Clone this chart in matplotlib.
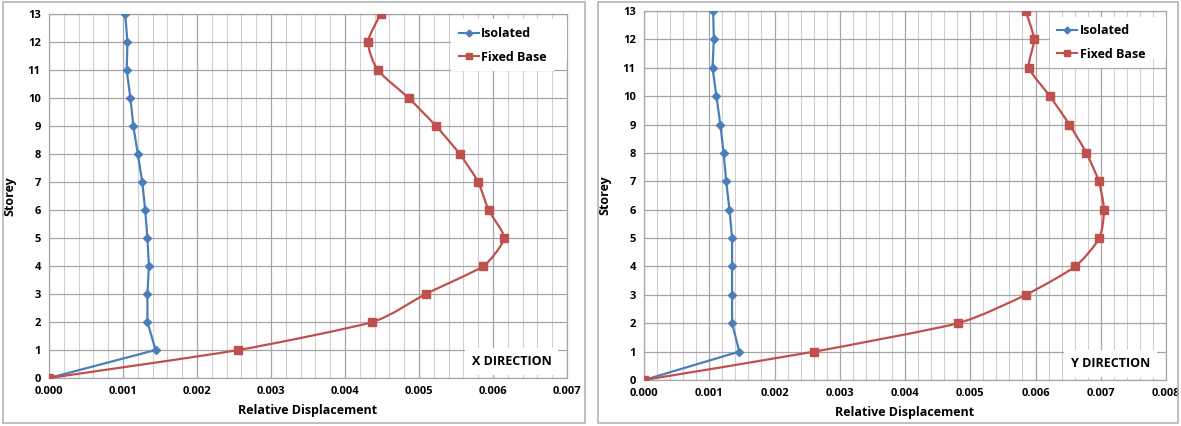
import matplotlib
matplotlib.use('Agg')
import matplotlib.pyplot as plt
from matplotlib.path import Path
from matplotlib.patches import PathPatch, Rectangle
from matplotlib.ticker import MultipleLocator, FormatStrFormatter
from matplotlib.lines import Line2D

storeys = list(range(14))
x_isolated = [0, 0.00144, 0.00133, 0.00133, 0.00135, 0.00133, 0.00130, 0.00126,
              0.00120, 0.00114, 0.00110, 0.00105, 0.00106, 0.00103]
x_fixed = [0, 0.00256, 0.00437, 0.00509, 0.00587, 0.00615, 0.00594, 0.00580,
           0.00555, 0.00523, 0.00486, 0.00444, 0.00431, 0.00448]
y_isolated = [0, 0.00146, 0.00135, 0.00135, 0.00135, 0.00135, 0.00131, 0.00126,
              0.00122, 0.00117, 0.00111, 0.00105, 0.00107, 0.00106]
y_fixed = [0, 0.00261, 0.00481, 0.00585, 0.00661, 0.00698, 0.00705, 0.00697,
           0.00678, 0.00652, 0.00622, 0.00590, 0.00598, 0.00585]
panel_titles = ["X DIRECTION", "Y DIRECTION"]
x_max = [0.007, 0.008]

BLUE = '#4A7EBB'
RED = '#C0504D'
FONT = 'Open Sans'
plt.rcParams['font.family'] = [FONT, 'DejaVu Sans']
plt.rcParams['font.weight'] = 'bold'
plt.rcParams['axes.labelweight'] = 'bold'


def smooth_path(xs, ys, f=10.0):
    pts = list(zip(xs, ys))
    n = len(pts)
    verts = [pts[0]]
    codes = [Path.MOVETO]
    for i in range(n - 1):
        p0 = pts[i - 1] if i > 0 else pts[i]
        p1 = pts[i]
        p2 = pts[i + 1]
        p3 = pts[i + 2] if i + 2 < n else pts[i + 1]
        c1 = (p1[0] + (p2[0] - p0[0]) / f, p1[1] + (p2[1] - p0[1]) / f)
        c2 = (p2[0] - (p3[0] - p1[0]) / f, p2[1] - (p3[1] - p1[1]) / f)
        verts += [c1, c2, p2]
        codes += [Path.CURVE4] * 3
    return Path(verts, codes)


fig = plt.figure(figsize=(11.81, 4.26), dpi=100)
W, H = 1181, 426

for (x0, x1) in [(3, 585), (598, 1178)]:
    fig.patches.append(Rectangle((x0 / W, 3 / H), (x1 - x0) / W, (424 - 3) / H,
                                 transform=fig.transFigure, fill=False,
                                 edgecolor='#b4b4b4', linewidth=1.2))

axes_px = [(49, 567, 14, 378), (644, 1166, 11, 380)]
data = [(x_isolated, x_fixed), (y_isolated, y_fixed)]

for k, (l, r, t, b) in enumerate(axes_px):
    ax = fig.add_axes([l / W, (H - b) / H, (r - l) / W, (b - t) / H])
    iso, fix = data[k]
    ax.set_xlim(0, x_max[k])
    ax.set_ylim(0, 13)
    ax.xaxis.set_major_locator(MultipleLocator(0.001))
    ax.xaxis.set_minor_locator(MultipleLocator(0.0002))
    ax.yaxis.set_major_locator(MultipleLocator(1))
    ax.xaxis.set_major_formatter(FormatStrFormatter('%.3f'))
    ax.grid(which='major', color='#a6a6a6', linewidth=0.9)
    ax.grid(which='minor', axis='x', color='#cfcfcf', linewidth=0.8)
    ax.set_axisbelow(True)
    for s in ax.spines.values():
        s.set_color('#a6a6a6')
        s.set_linewidth(0.9)
    ax.tick_params(which='both', length=0, labelsize=8, pad=6)
    ax.set_xlabel('Relative Displacement', fontsize=9, fontweight='bold', labelpad=5)
    ax.set_ylabel('Storey', fontsize=9, fontweight='bold', labelpad=8)

    ax.plot(iso, storeys, color=BLUE, linewidth=1.6, marker='D', markersize=4,
            markerfacecolor=BLUE, markeredgecolor=BLUE, zorder=3)
    ax.add_patch(PathPatch(smooth_path(fix, storeys), facecolor='none',
                           edgecolor=RED, linewidth=1.6, zorder=3))
    ax.plot(fix, storeys, linestyle='none', marker='s', markersize=5.5,
            color=RED, zorder=4)

    handles = [Line2D([], [], color=BLUE, lw=1.5, marker='D', markersize=3.5),
               Line2D([], [], color=RED, lw=1.5, marker='s', markersize=5)]
    leg = ax.legend(handles, ['Isolated', 'Fixed Base'], loc='upper right',
                    bbox_to_anchor=(1.0, 0.985), frameon=True, fancybox=False,
                    framealpha=1, edgecolor='none', facecolor='white',
                    prop={'family': [FONT, 'DejaVu Sans'], 'weight': 'bold', 'size': 9},
                    handlelength=1.6, handletextpad=0.2, labelspacing=0.85,
                    borderpad=0.6, borderaxespad=0)
    leg._legend_box.align = 'left'
    leg.set_zorder(5)
    leg.get_frame().set_boxstyle('square', pad=0)

    ax.text(0.97, 0.045, panel_titles[k], transform=ax.transAxes, ha='right',
            va='center', fontsize=9, fontweight='bold', zorder=6,
            bbox=dict(facecolor='white', edgecolor='none', pad=5))

fig.canvas.draw()
# widen legend boxes to the right so labels sit left of the axes edge like the reference
for ax in fig.axes:
    leg = ax.get_legend()
    leg.set_bbox_to_anchor((0.975, 0.985), transform=ax.transAxes)
    ax.add_patch(Rectangle((0.95, 0.87), 0.05, 0.115, transform=ax.transAxes,
                           facecolor='white', edgecolor='none', zorder=4.5))

fig.savefig('out.png', dpi=100)
